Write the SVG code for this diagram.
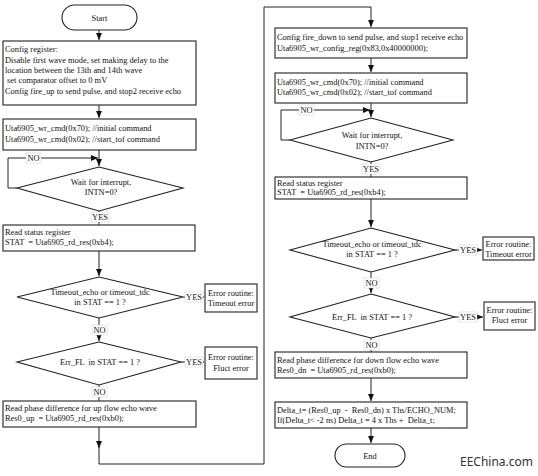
<svg xmlns="http://www.w3.org/2000/svg" width="538" height="476" viewBox="0 0 538 476" xml:space="preserve">
<defs>
<marker id="ah" markerWidth="8" markerHeight="8" refX="7" refY="4" orient="auto" markerUnits="userSpaceOnUse">
<path d="M0,1 L7,4 L0,7 Z" fill="#111"/>
</marker>
<style>
.box{fill:#fff;stroke:#222;stroke-width:1.1}
.t{font-family:"Liberation Serif","Times New Roman",serif;font-size:8.4px;fill:#111;white-space:pre}
.c{text-anchor:middle}
.ln{fill:none;stroke:#222;stroke-width:1}
.lb{fill:#fff;stroke:#ccc;stroke-width:0.5}
</style>
</defs>
<rect width="538" height="476" fill="#fff"/>

<g id="connectors">
<path class="ln" d="M99,30 V40" marker-end="url(#ah)"/>
<path class="ln" d="M99,105 V118" marker-end="url(#ah)"/>
<path class="ln" d="M99,150 V166" marker-end="url(#ah)"/>
<path class="ln" d="M17,188 H8 V158 H98" marker-end="url(#ah)"/>
<path class="ln" d="M99,211 V225"/>
<path class="ln" d="M99,251 V276" marker-end="url(#ah)"/>
<path class="ln" d="M183,297 H204" marker-end="url(#ah)"/>
<path class="ln" d="M99,318 V341" marker-end="url(#ah)"/>
<path class="ln" d="M181,362 H204" marker-end="url(#ah)"/>
<path class="ln" d="M99,385 V401"/>
<path class="ln" d="M99,427 V448" marker-end="url(#ah)"/>
<path class="ln" d="M99,446 V464 H264 V7 H371 V27" marker-end="url(#ah)"/>

<path class="ln" d="M371,58 V72" marker-end="url(#ah)"/>
<path class="ln" d="M371,103 V117" marker-end="url(#ah)"/>
<path class="ln" d="M290,140 H281 V110 H370" marker-end="url(#ah)"/>
<path class="ln" d="M371,162 V177"/>
<path class="ln" d="M371,199 V227" marker-end="url(#ah)"/>
<path class="ln" d="M455,250 H482" marker-end="url(#ah)"/>
<path class="ln" d="M371,272 V293" marker-end="url(#ah)"/>
<path class="ln" d="M455,317 H483" marker-end="url(#ah)"/>
<path class="ln" d="M371,338 V352"/>
<path class="ln" d="M371,378 V401" marker-end="url(#ah)"/>
<path class="ln" d="M371,428 V443" marker-end="url(#ah)"/>

<rect class="lb" x="26" y="153" width="15" height="10"/>
<text class="t c" x="33.5" y="161">NO</text>
<rect class="lb" x="91" y="212" width="18" height="10"/>
<text class="t c" x="100" y="220">YES</text>
<rect class="lb" x="185" y="292" width="18" height="10"/>
<text class="t c" x="194" y="300">YES</text>
<rect class="lb" x="92" y="325" width="15" height="10"/>
<text class="t c" x="99.5" y="333">NO</text>
<rect class="lb" x="185" y="357" width="18" height="10"/>
<text class="t c" x="194" y="365">YES</text>
<rect class="lb" x="92" y="387" width="15" height="10"/>
<text class="t c" x="99.5" y="395">NO</text>

<rect class="lb" x="299" y="105" width="15" height="10"/>
<text class="t c" x="306.5" y="113">NO</text>
<rect class="lb" x="362" y="164" width="18" height="10"/>
<text class="t c" x="371" y="172">YES</text>
<rect class="lb" x="459" y="245" width="18" height="10"/>
<text class="t c" x="468" y="253">YES</text>
<rect class="lb" x="364" y="278" width="15" height="10"/>
<text class="t c" x="371.5" y="286">NO</text>
<rect class="lb" x="459" y="312" width="18" height="10"/>
<text class="t c" x="468" y="320">YES</text>
<rect class="lb" x="364" y="340" width="15" height="10"/>
<text class="t c" x="371.5" y="348">NO</text>
</g>

<g id="start">
<rect class="box" x="62" y="5" width="75" height="25" rx="12.5"/>
<text class="t c" x="99.5" y="20.5">Start</text>
</g>

<g id="config1">
<rect class="box" x="3" y="41" width="193" height="64"/>
<text class="t" x="5" y="52">Config register:</text>
<text class="t" x="5" y="63">Disable first wave mode, set making delay to the</text>
<text class="t" x="5" y="73">location between the 13th and 14th wave</text>
<text class="t" x="5" y="83"> set comparator offset to 0 mV</text>
<text class="t" x="5" y="94">Config fire_up to send pulse, and stop2 receive echo</text>
</g>

<g id="cmd1">
<rect class="box" x="3" y="119" width="193" height="31"/>
<text class="t" x="5" y="131">Uta6905_wr_cmd(0x70); //initial command</text>
<text class="t" x="5" y="142">Uta6905_wr_cmd(0x02); //start_tof command</text>
</g>

<g id="wait1">
<polygon class="box" points="99,167 183,188 99,211 17,188"/>
<text class="t c" x="101" y="185">Wait for interrupt,</text>
<text class="t c" x="101" y="195">INTN=0?</text>
</g>

<g id="stat1">
<rect class="box" x="3" y="225" width="192" height="26"/>
<text class="t" x="5" y="235">Read status register</text>
<text class="t" x="5" y="245">STAT  = Uta6905_rd_res(0xb4);</text>
</g>

<g id="timeout1">
<polygon class="box" points="99,277 183,297 99,318 17,297"/>
<text class="t c" x="100" y="295">Timeout_echo or timeout_tdc</text>
<text class="t c" x="100" y="305">in STAT == 1 ?</text>
</g>

<g id="err1">
<rect class="box" x="205" y="284" width="52" height="28"/>
<text class="t c" x="231" y="296">Error routine:</text>
<text class="t c" x="231" y="306">Timeout error</text>
</g>

<g id="errfl1">
<polygon class="box" points="99,342 181,362 99,385 17,362"/>
<text class="t c" x="100" y="365">Err_FL  in STAT == 1 ?</text>
</g>

<g id="err2">
<rect class="box" x="205" y="347" width="52" height="32"/>
<text class="t c" x="231" y="360">Error routine:</text>
<text class="t c" x="231" y="371">Fluct error</text>
</g>

<g id="phaseup">
<rect class="box" x="3" y="401" width="193" height="26"/>
<text class="t" x="5" y="411">Read phase difference for up flow echo wave</text>
<text class="t" x="5" y="421">Res0_up  = Uta6905_rd_res(0xb0);</text>
</g>

<g id="config2">
<rect class="box" x="275" y="28" width="192" height="30"/>
<text class="t" x="277" y="40">Config fire_down to send pulse, and stop1 receive echo</text>
<text class="t" x="277" y="51">Uta6905_wr_config_reg(0x83,0x40000000);</text>
</g>

<g id="cmd2">
<rect class="box" x="275" y="73" width="192" height="30"/>
<text class="t" x="277" y="85">Uta6905_wr_cmd(0x70); //initial command</text>
<text class="t" x="277" y="95">Uta6905_wr_cmd(0x02); //start_tof command</text>
</g>

<g id="wait2">
<polygon class="box" points="371,118 453,140 371,162 290,140"/>
<text class="t c" x="372" y="138">Wait for interrupt,</text>
<text class="t c" x="372" y="149">INTN=0?</text>
</g>

<g id="stat2">
<rect class="box" x="275" y="177" width="192" height="22"/>
<text class="t" x="277" y="186">Read status register</text>
<text class="t" x="277" y="195">STAT  = Uta6905_rd_res(0xb4);</text>
</g>

<g id="timeout2">
<polygon class="box" points="371,228 455,250 371,272 290,250"/>
<text class="t c" x="372" y="247">Timeout_echo or timeout_tdc</text>
<text class="t c" x="372" y="257">in STAT == 1 ?</text>
</g>

<g id="err3">
<rect class="box" x="483" y="237" width="51" height="23"/>
<text class="t c" x="508.5" y="247">Error routine:</text>
<text class="t c" x="508.5" y="257">Timeout error</text>
</g>

<g id="errfl2">
<polygon class="box" points="371,294 455,317 371,338 290,317"/>
<text class="t c" x="372" y="320">Err_FL  in STAT == 1 ?</text>
</g>

<g id="err4">
<rect class="box" x="484" y="302" width="51" height="28"/>
<text class="t c" x="509.5" y="313">Error routine:</text>
<text class="t c" x="509.5" y="323">Fluct error</text>
</g>

<g id="phasedn">
<rect class="box" x="275" y="352" width="192" height="26"/>
<text class="t" x="277" y="363">Read phase difference for down flow echo wave</text>
<text class="t" x="277" y="373">Res0_dn  = Uta6905_rd_res(0xb0);</text>
</g>

<g id="delta">
<rect class="box" x="275" y="402" width="192" height="26"/>
<text class="t" x="277" y="413">Delta_t= (Res0_up  -  Res0_dn) x Ths/ECHO_NUM;</text>
<text class="t" x="277" y="423">If(Delta_t&lt; -2 ns) Delta_t = 4 x Ths +  Delta_t;</text>
</g>

<g id="end">
<rect class="box" x="335" y="444" width="70" height="23" rx="11.5"/>
<text class="t c" x="370" y="459">End</text>
</g>

<text x="460" y="466" font-family="'Noto Sans','Open Sans',sans-serif" font-size="12" fill="#333">EEChina.com</text>
</svg>
